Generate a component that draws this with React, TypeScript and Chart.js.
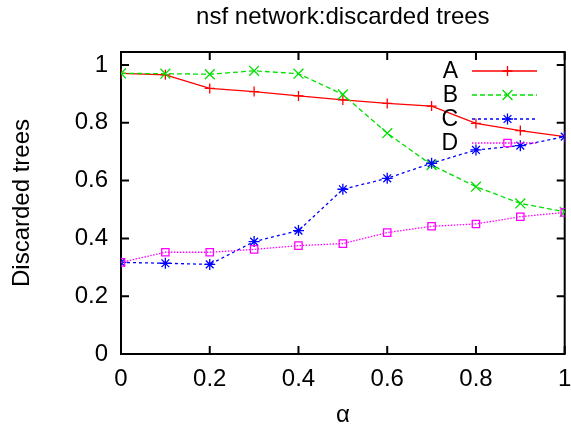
import React, { useEffect, useRef } from 'react';
import { Chart, registerables } from 'chart.js';

Chart.register(...registerables);

const titleText = 'nsf network:discarded trees';
const xTitle = 'α';
const yTitle = 'Discarded trees';

const alphaValues = [0, 0.1, 0.2, 0.3, 0.4, 0.5, 0.6, 0.7, 0.8, 0.9, 1.0];
const seriesA = [0.971, 0.966, 0.919, 0.908, 0.893, 0.879, 0.867, 0.858, 0.798, 0.773, 0.752];
const seriesB = [0.971, 0.970, 0.968, 0.980, 0.970, 0.898, 0.764, 0.654, 0.579, 0.521, 0.492];
const seriesC = [0.317, 0.314, 0.310, 0.389, 0.427, 0.570, 0.608, 0.660, 0.706, 0.721, 0.752];
const seriesD = [0.317, 0.352, 0.352, 0.362, 0.375, 0.382, 0.420, 0.442, 0.450, 0.475, 0.490];
const seriesNames = ['A', 'B', 'C', 'D'];

const xTickValues = [0, 0.2, 0.4, 0.6, 0.8, 1];
const yTickValues = [0, 0.2, 0.4, 0.6, 0.8, 1];

const FONT = '"Liberation Sans", Arial, Helvetica, sans-serif';
const FS = 24;

const fmt = (v: number) => String(Number(Number(v).toFixed(2)));

function drawMarker(ctx: CanvasRenderingContext2D, style: string, r: number, x: number, y: number, color: string, lw: number) {
  ctx.save();
  ctx.strokeStyle = color;
  ctx.lineWidth = lw;
  ctx.setLineDash([]);
  ctx.beginPath();
  const d = Math.SQRT1_2 * r;
  if (style === 'cross' || style === 'star') {
    ctx.moveTo(x - r, y);
    ctx.lineTo(x + r, y);
    ctx.moveTo(x, y - r);
    ctx.lineTo(x, y + r);
  }
  if (style === 'crossRot' || style === 'star') {
    ctx.moveTo(x - d, y - d);
    ctx.lineTo(x + d, y + d);
    ctx.moveTo(x - d, y + d);
    ctx.lineTo(x + d, y - d);
  }
  if (style === 'rect') {
    ctx.rect(x - d, y - d, 2 * d, 2 * d);
  }
  ctx.stroke();
  ctx.restore();
}

const framePlugin = {
  id: 'gnuFrame',
  beforeDatasetsDraw(chart: any) {
    const { ctx, chartArea: a, scales } = chart;
    const tl = 8;
    ctx.save();
    ctx.strokeStyle = '#000';
    ctx.lineWidth = 2;
    ctx.strokeRect(a.left, a.top, a.right - a.left, a.bottom - a.top);
    ctx.beginPath();
    xTickValues.forEach((v) => {
      const px = scales.x.getPixelForValue(v);
      ctx.moveTo(px, a.bottom);
      ctx.lineTo(px, a.bottom - tl);
      ctx.moveTo(px, a.top);
      ctx.lineTo(px, a.top + tl);
    });
    yTickValues.forEach((v) => {
      const py = scales.y.getPixelForValue(v);
      ctx.moveTo(a.left, py);
      ctx.lineTo(a.left + tl, py);
      ctx.moveTo(a.right, py);
      ctx.lineTo(a.right - tl, py);
    });
    ctx.stroke();
    ctx.restore();
  },
  afterDraw(chart: any) {
    const { ctx, chartArea: a } = chart;
    ctx.save();
    ctx.fillStyle = '#000';
    ctx.font = `${FS}px ${FONT}`;
    ctx.textAlign = 'center';
    ctx.textBaseline = 'alphabetic';
    ctx.fillText(titleText, (a.left + a.right) / 2, 24);

    // key
    const textRight = 458;
    const lineL = 472;
    const lineR = 537;
    const rowY0 = 71;
    const rowH = 24;
    ctx.font = `${FS - 1}px ${FONT}`;
    ctx.textBaseline = 'middle';
    chart.data.datasets.forEach((ds: any, i: number) => {
      const y = rowY0 + i * rowH;
      ctx.fillStyle = '#000';
      ctx.textAlign = 'right';
      ctx.fillText(seriesNames[i], textRight, y + 1);
      ctx.save();
      ctx.strokeStyle = ds.borderColor;
      ctx.lineWidth = ds.borderWidth;
      ctx.setLineDash(ds.borderDash || []);
      ctx.beginPath();
      ctx.moveTo(lineL, y);
      ctx.lineTo(lineR, y);
      ctx.stroke();
      ctx.restore();
      drawMarker(ctx, ds.pointStyle, ds.pointRadius, (lineL + lineR) / 2 + 3, y, ds.borderColor, ds.pointBorderWidth);
    });
    ctx.restore();
  },
};

function makeDataset(label: string, values: number[], color: string, dash: number[], pointStyle: string, radius: number, order: number) {
  return {
    label,
    data: alphaValues.map((x, i) => ({ x, y: values[i] })),
    borderColor: color,
    backgroundColor: 'rgba(0,0,0,0)',
    borderWidth: 1.3,
    borderDash: dash,
    pointStyle,
    pointRadius: radius,
    pointBorderWidth: 1.3,
    pointBorderColor: color,
    pointBackgroundColor: 'rgba(0,0,0,0)',
    fill: false,
    tension: 0,
    order,
  };
}

export default function App() {
  const ref = useRef<HTMLCanvasElement | null>(null);
  useEffect(() => {
    if (!ref.current) return;
    const chart = new Chart(ref.current, {
      type: 'line',
      data: {
        datasets: [
          makeDataset('A', seriesA, '#ff0000', [], 'cross', 5, 4),
          makeDataset('B', seriesB, '#00e000', [5, 3], 'crossRot', 7, 3),
          makeDataset('C', seriesC, '#0000ff', [3, 3], 'star', 5.5, 2),
          makeDataset('D', seriesD, '#ff00ff', [1.5, 1.5], 'rect', 5.2, 1),
        ] as any,
      },
      options: {
        responsive: false,
        animation: false,
        devicePixelRatio: 1,
        layout: { padding: { top: 52, right: 0, left: 0, bottom: 0 } },
        plugins: {
          legend: { display: false },
          title: { display: false },
          tooltip: { enabled: false },
        },
        scales: {
          x: {
            type: 'linear',
            min: 0,
            max: 1,
            grid: { display: false, drawTicks: false },
            border: { display: false },
            afterFit: (s: any) => { s.height = 76; s.paddingLeft = 0; s.paddingRight = 0; },
            afterBuildTicks: (s: any) => { s.ticks = xTickValues.map((v) => ({ value: v })); },
            ticks: {
              padding: 11,
              color: '#000',
              font: { family: FONT, size: FS },
              callback: (v: any) => fmt(v),
              maxRotation: 0,
              autoSkip: false,
            },
            title: {
              display: true,
              text: xTitle,
              color: '#000',
              font: { family: FONT, size: FS },
              padding: { top: 0, bottom: 0 },
            },
          },
          y: {
            type: 'linear',
            min: 0,
            max: 1.045,
            grid: { display: false, drawTicks: false },
            border: { display: false },
            afterFit: (s: any) => { s.width = 121; s.paddingTop = 0; s.paddingBottom = 0; },
            afterBuildTicks: (s: any) => { s.ticks = yTickValues.map((v) => ({ value: v })); },
            ticks: {
              padding: 13,
              color: '#000',
              font: { family: FONT, size: FS },
              callback: (v: any) => fmt(v),
              autoSkip: false,
            },
            title: {
              display: true,
              text: yTitle,
              color: '#000',
              font: { family: FONT, size: FS },
              padding: { top: 8, bottom: 8 },
            },
          },
        },
      },
      plugins: [framePlugin],
    });
    return () => chart.destroy();
  }, []);
  return (
    <div style={{ position: 'fixed', left: 0, top: 0, width: 571, height: 430, overflow: 'hidden', background: '#fff' }}>
      <canvas ref={ref} width={573} height={430} style={{ width: 573, height: 430, display: 'block' }} />
    </div>
  );
}
